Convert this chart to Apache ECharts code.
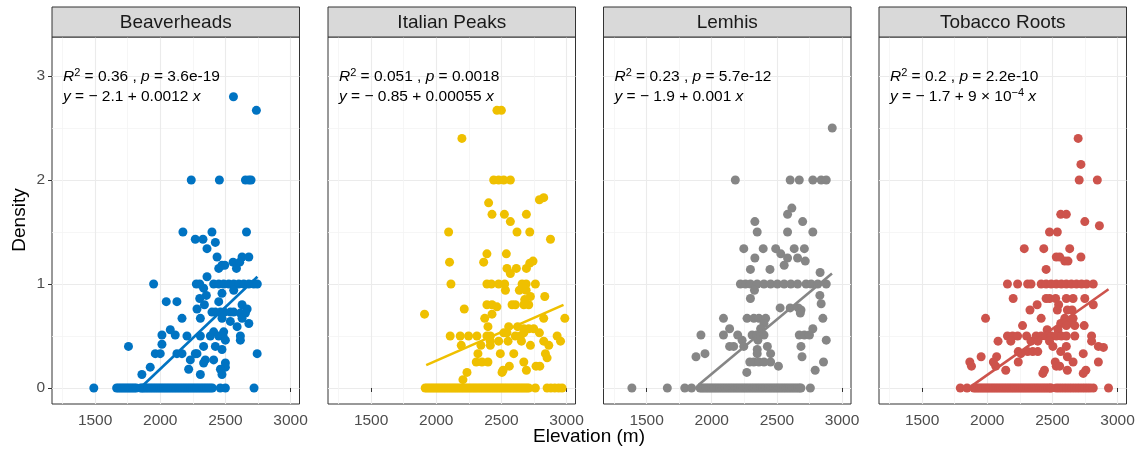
<!DOCTYPE html>
<html><head><meta charset="utf-8">
<script src="https://cdn.jsdelivr.net/npm/echarts@6/dist/echarts.min.js"></script>
<style>html,body{margin:0;padding:0;background:#fff}#c{width:1143px;height:455px}</style>
</head><body><div id="c"></div>
<script>
const panels = ['Beaverheads', 'Italian Peaks', 'Lemhis', 'Tobacco Roots'];
const colors = ['#0073C2', '#EFC000', '#868686', '#CD534C'];
const xTicks = [1500, 2000, 2500, 3000];
const xMinorTicks = [1250, 1750, 2250, 2750];
const yTicks = [0, 1, 2, 3];
const yMinorTicks = [0.5, 1.5, 2.5];

const r2Values = ['0.36', '0.051', '0.23', '0.2'];
const pValues = ['3.6e-19', '0.0018', '5.7e-12', '2.2e-10'];
const eqIntercepts = ['2.1', '0.85', '1.9', '1.7'];
const eqSlopes = ['0.0012', '0.00055', '0.001', '9 × 10{sup|−4}'];

// fitted lines: intercept, slope, x-range drawn
const fitIntercept = [-2.195, -0.838, -1.957, -1.645];
const fitSlope = [0.001189, 0.000550, 0.001046, 0.000885];
const fitXStart = [1846, 1923, 1900, 1892];
const fitXEnd = [2746, 2977, 2923, 2931];

// zero-density elevations
const beaverheadsZero = [1490,1665,1680,1695,1710,1725,1740,1755,1770,1785,1800,1815,1850,1862,1875,1890,1905,1920,1935,1950,1965,1980,1995,2010,2025,2040,2055,2070,2085,2100,2115,2130,2145,2160,2175,2190,2205,2220,2235,2250,2265,2280,2295,2310,2325,2340,2355,2370,2385,2400,2461,2500,2720];
const italianZero = [1915,1930,1945,1960,1975,1990,2005,2020,2035,2050,2065,2080,2095,2110,2125,2140,2155,2170,2185,2200,2215,2230,2245,2260,2275,2290,2305,2320,2335,2350,2365,2380,2395,2410,2425,2440,2455,2470,2485,2500,2515,2530,2545,2560,2575,2590,2605,2620,2635,2650,2665,2680,2695,2710,2761,2851,2880,2910,2940,2966];
const lemhisZero = [1387,1659,1793,1845,1910,1925,1940,1955,1970,1985,2000,2015,2030,2045,2060,2075,2090,2105,2120,2135,2150,2165,2180,2195,2210,2225,2240,2255,2270,2285,2300,2315,2330,2345,2360,2375,2390,2405,2420,2435,2450,2465,2480,2495,2510,2525,2540,2555,2570,2585,2600,2615,2630,2645,2660,2675,2685,2757];
const tobaccoZero = [1793,1845,1897,1912,1927,1942,1957,1972,1987,2002,2017,2032,2047,2062,2077,2092,2107,2122,2137,2152,2167,2182,2197,2212,2227,2242,2257,2272,2287,2302,2317,2332,2347,2362,2377,2392,2407,2422,2437,2452,2467,2482,2491,2530,2550,2570,2590,2610,2630,2650,2670,2690,2710,2730,2750,2770,2790,2814,2931];

// non-zero [elevation, density]
const beaverheadsPts = [[2562,2.80],[2738,2.67],[2238,2],[2454,2],[2654,2],[2680,2],[2697,2],[2174,1.5],[2397,1.5],[2662,1.5],[2269,1.43],[2328,1.43],[2423,1.40],[2359,1.34],[2436,1.26],[2628,1.26],[2680,1.26],[2559,1.21],[2610,1.21],[2474,1.18],[2495,1.18],[2449,1.15],[2585,1.15],[2359,1.07],[1949,1],[2277,1],[2303,1],[2410,1],[2449,1],[2487,1],[2526,1],[2564,1],[2603,1],[2641,1],[2680,1],[2718,1],[2745,1],[2333,0.96],[2564,0.94],[2474,0.91],[2354,0.89],[2303,0.86],[2046,0.83],[2128,0.83],[2449,0.83],[2339,0.80],[2628,0.80],[2282,0.76],[2667,0.76],[2397,0.73],[2423,0.73],[2462,0.73],[2492,0.73],[2538,0.73],[2564,0.73],[2615,0.72],[2654,0.72],[2167,0.67],[2308,0.67],[2474,0.67],[2628,0.67],[2538,0.64],[2680,0.62],[2590,0.59],[2077,0.56],[2410,0.54],[2487,0.54],[2013,0.51],[2115,0.51],[2205,0.5],[2308,0.5],[2385,0.5],[2449,0.5],[2482,0.5],[2615,0.5],[2500,0.46],[2615,0.46],[2013,0.42],[1756,0.40],[2333,0.40],[2423,0.40],[2474,0.37],[1962,0.33],[2000,0.33],[2128,0.33],[2269,0.33],[2744,0.33],[2167,0.33],[2282,0.33],[2231,0.27],[2346,0.27],[2410,0.27],[2333,0.24],[2500,0.24],[1923,0.2],[2500,0.2],[2218,0.18],[2462,0.18],[1859,0.13],[2308,0.13],[2474,0.13]];
const italianPts = [[2466,2.67],[2500,2.67],[2197,2.4],[2441,2],[2479,2],[2518,2],[2569,2],[2792,1.81],[2825,1.83],[2402,1.78],[2428,1.67],[2523,1.67],[2692,1.67],[2569,1.6],[2095,1.5],[2620,1.5],[2718,1.5],[2877,1.43],[2389,1.29],[2538,1.29],[2364,1.21],[2102,1.21],[2743,1.22],[2718,1.2],[2692,1.15],[2615,1.15],[2543,1.15],[2569,1.10],[2113,1],[2389,1],[2423,1],[2479,1],[2525,1],[2659,1],[2690,1],[2761,1],[2531,0.94],[2638,0.94],[2690,0.94],[2833,0.88],[2723,0.88],[2679,0.85],[2389,0.8],[2428,0.8],[2582,0.8],[2607,0.8],[2672,0.8],[2710,0.8],[2466,0.78],[2215,0.76],[1910,0.71],[2428,0.71],[2825,0.67],[2987,0.67],[2372,0.67],[2397,0.59],[2556,0.59],[2625,0.59],[2672,0.57],[2710,0.57],[2748,0.57],[2518,0.53],[2543,0.53],[2672,0.53],[2792,0.53],[2107,0.5],[2184,0.5],[2248,0.5],[2312,0.5],[2389,0.5],[2415,0.5],[2607,0.5],[2646,0.5],[2928,0.5],[2415,0.45],[2479,0.45],[2551,0.45],[2654,0.45],[2825,0.45],[2954,0.45],[2192,0.41],[2343,0.41],[2415,0.41],[2723,0.41],[2864,0.41],[2320,0.33],[2492,0.33],[2595,0.33],[2838,0.33],[2851,0.29],[2307,0.25],[2351,0.25],[2397,0.25],[2672,0.25],[2766,0.21],[2795,0.21],[2561,0.21],[2692,0.17],[2513,0.17],[2236,0.15],[2505,0.15],[2205,0.08]];
const lemhisPts = [[2925,2.5],[2181,2],[2602,2],[2672,2],[2776,2],[2840,2],[2879,2],[2615,1.73],[2582,1.67],[2331,1.6],[2698,1.6],[2349,1.5],[2582,1.5],[2776,1.5],[2246,1.34],[2395,1.34],[2491,1.34],[2633,1.34],[2711,1.34],[2530,1.29],[2331,1.25],[2582,1.25],[2659,1.25],[2718,1.22],[2556,1.18],[2297,1.14],[2447,1.14],[2832,1.11],[2220,1],[2259,1],[2297,1],[2349,1],[2401,1],[2452,1],[2504,1],[2556,1],[2607,1],[2659,1],[2724,1],[2763,1],[2814,1],[2879,1],[2328,0.94],[2830,0.89],[2297,0.86],[2840,0.81],[2525,0.77],[2602,0.77],[2664,0.77],[2685,0.75],[2680,0.72],[2090,0.67],[2271,0.67],[2323,0.67],[2362,0.67],[2414,0.67],[2853,0.67],[2401,0.62],[2137,0.57],[2375,0.57],[2776,0.57],[1917,0.51],[2090,0.51],[2199,0.51],[2310,0.51],[2344,0.51],[2401,0.51],[2672,0.51],[2711,0.51],[2750,0.51],[2233,0.46],[2354,0.46],[2879,0.46],[2137,0.4],[2168,0.4],[2246,0.4],[2427,0.4],[2685,0.4],[2349,0.37],[1948,0.33],[2349,0.33],[2452,0.33],[1879,0.3],[2693,0.3],[2292,0.25],[2323,0.25],[2362,0.25],[2401,0.25],[2452,0.25],[2858,0.25],[2512,0.21],[2794,0.17],[2269,0.15]];
const tobaccoPts = [[2698,2.4],[2719,2.15],[2706,2],[2845,2],[2564,1.67],[2607,1.67],[2749,1.6],[2861,1.56],[2478,1.5],[2538,1.5],[2284,1.34],[2434,1.34],[2633,1.34],[2530,1.26],[2556,1.26],[2719,1.26],[2595,1.22],[2620,1.22],[2452,1.14],[2155,1],[2233,1],[2310,1],[2336,1],[2414,1],[2452,1],[2491,1],[2530,1],[2569,1],[2607,1],[2646,1],[2685,1],[2724,1],[2762,1],[2814,1],[2199,0.86],[2452,0.86],[2478,0.86],[2525,0.86],[2607,0.86],[2659,0.86],[2749,0.86],[2383,0.8],[2548,0.8],[2814,0.8],[2328,0.75],[2538,0.75],[2615,0.75],[2651,0.75],[1987,0.67],[2414,0.67],[2595,0.67],[2659,0.67],[2564,0.62],[2620,0.62],[2271,0.6],[2607,0.6],[2672,0.6],[2744,0.6],[2460,0.56],[2543,0.56],[2155,0.5],[2194,0.5],[2233,0.5],[2302,0.5],[2375,0.5],[2414,0.5],[2452,0.5],[2491,0.5],[2530,0.5],[2569,0.5],[2607,0.5],[2672,0.5],[2801,0.5],[2083,0.45],[2181,0.45],[2336,0.45],[2388,0.45],[2478,0.45],[2801,0.45],[2504,0.4],[2607,0.4],[2853,0.4],[2892,0.39],[2238,0.35],[2310,0.35],[2349,0.35],[2388,0.35],[2564,0.35],[2737,0.33],[2258,0.33],[1953,0.3],[2072,0.3],[2615,0.3],[1866,0.25],[2047,0.25],[2238,0.25],[2522,0.25],[2659,0.25],[2853,0.25],[1879,0.21],[2065,0.21],[2530,0.21],[2556,0.21],[2142,0.17],[2439,0.17],[2615,0.17],[2757,0.17],[2427,0.14],[2737,0.14]];

const zeroSets = [beaverheadsZero, italianZero, lemhisZero, tobaccoZero];
const ptSets = [beaverheadsPts, italianPts, lemhisPts, tobaccoPts];

// layout
const FONT = 'Liberation Sans, Arial, Helvetica, sans-serif';
const lefts = [52, 328, 603.5, 879];
const W = 247.5, TOP = 37, H = 367, STRIP_TOP = 7;
const XMIN = 1169, XMAX = 3069, YMIN = -0.154, YMAX = 3.375;
const plain = v => String(v);

const grids = [], xAxes = [], yAxes = [], series = [], graphics = [];
panels.forEach((name, i) => {
  grids.push({left: lefts[i], top: TOP, width: W, height: H, show: true,
    borderColor: '#333333', borderWidth: 1, backgroundColor: '#ffffff'});
  xAxes.push({type: 'value', gridIndex: i, min: XMIN, max: XMAX,
    axisLine: {show: false},
    axisTick: {show: true, length: 4, lineStyle: {color: '#333333', width: 1}, customValues: xTicks},
    axisLabel: {customValues: xTicks, formatter: plain, fontSize: 15.5, color: '#4d4d4d', margin: 9, fontFamily: FONT},
    splitLine: {show: true, lineStyle: {color: '#ebebeb', width: 1.1}}});
  yAxes.push({type: 'value', gridIndex: i, min: YMIN, max: YMAX,
    axisLine: {show: false},
    axisTick: {show: i === 0, length: 4, lineStyle: {color: '#333333', width: 1}, customValues: yTicks},
    axisLabel: {show: i === 0, customValues: yTicks, formatter: plain, fontSize: 15.5, color: '#4d4d4d', margin: 7, fontFamily: FONT},
    splitLine: {show: true, lineStyle: {color: '#ebebeb', width: 1.1}}});
});
panels.forEach((name, i) => {
  xAxes.push({type: 'value', gridIndex: i, min: XMIN, max: XMAX, position: 'bottom',
    axisLine: {show: false}, axisTick: {show: false, customValues: xMinorTicks},
    axisLabel: {show: false}, splitLine: {show: true, lineStyle: {color: '#f4f4f4', width: 0.8}}});
  yAxes.push({type: 'value', gridIndex: i, min: YMIN, max: YMAX, position: 'left',
    axisLine: {show: false}, axisTick: {show: false, customValues: yMinorTicks},
    axisLabel: {show: false}, splitLine: {show: true, lineStyle: {color: '#f4f4f4', width: 0.8}}});
});

panels.forEach((name, i) => {
  const pts = zeroSets[i].map(x => [x, 0]).concat(ptSets[i]);
  series.push({type: 'scatter', xAxisIndex: i, yAxisIndex: i, data: pts,
    symbol: 'circle', symbolSize: 9, itemStyle: {color: colors[i], opacity: 1},
    silent: true, z: 3});
  const lineData = [fitXStart[i], fitXEnd[i]].map(x => [x, fitIntercept[i] + fitSlope[i] * x]);
  series.push({type: 'line', xAxisIndex: i, yAxisIndex: i, data: lineData,
    symbol: 'none', lineStyle: {color: colors[i], width: 2.6}, silent: true, z: 4, animation: false});

  // strip
  graphics.push({type: 'rect', shape: {x: lefts[i], y: STRIP_TOP, width: W, height: TOP - STRIP_TOP},
    style: {fill: '#d9d9d9', stroke: '#333333', lineWidth: 1}, z: 10});
  graphics.push({type: 'text', x: lefts[i] + W / 2, y: (STRIP_TOP + TOP) / 2 + 1,
    style: {text: name, font: '19px ' + FONT, fill: '#1a1a1a', align: 'center', verticalAlign: 'middle'}, z: 11});

  const rich = {
    n: {fontFamily: FONT, fontSize: 15.5, color: '#000000'},
    i: {fontFamily: FONT, fontSize: 15.5, fontStyle: 'italic', color: '#000000'},
    sup: {fontFamily: FONT, fontSize: 11, color: '#000000', verticalAlign: 'top', lineHeight: 20, padding: [0, 0, 8, 0]}
  };
  graphics.push({type: 'text', x: lefts[i] + 11, y: 77,
    style: {text: '{i|R}{sup|2}{n| = ' + r2Values[i] + ' , }{i|p}{n| = ' + pValues[i] + '}',
      rich: rich, fill: '#000000', align: 'left', verticalAlign: 'middle'}, z: 12});
  const slope = eqSlopes[i].indexOf('{sup|') >= 0
    ? '{n| + ' + eqSlopes[i].replace('{sup|', '}{sup|') + '{n| }'
    : '{n| + ' + eqSlopes[i] + ' }';
  graphics.push({type: 'text', x: lefts[i] + 11, y: 97,
    style: {text: '{i|y}{n| = − ' + eqIntercepts[i] + '}' + slope + '{i|x}',
      rich: rich, fill: '#000000', align: 'left', verticalAlign: 'middle'}, z: 12});
});

graphics.push({type: 'text', x: 589, y: 437,
  style: {text: 'Elevation (m)', font: '19px ' + FONT, fill: '#000000', align: 'center', verticalAlign: 'middle'}});
graphics.push({type: 'text', x: 20, y: 220, rotation: Math.PI / 2,
  style: {text: 'Density', font: '19px ' + FONT, fill: '#000000', align: 'center', verticalAlign: 'middle'}});

const chart = echarts.init(document.getElementById('c'), null, {renderer: 'canvas'});
chart.setOption({
  animation: false,
  backgroundColor: '#ffffff',
  grid: grids, xAxis: xAxes, yAxis: yAxes, series: series, graphic: graphics
});
</script></body></html>
